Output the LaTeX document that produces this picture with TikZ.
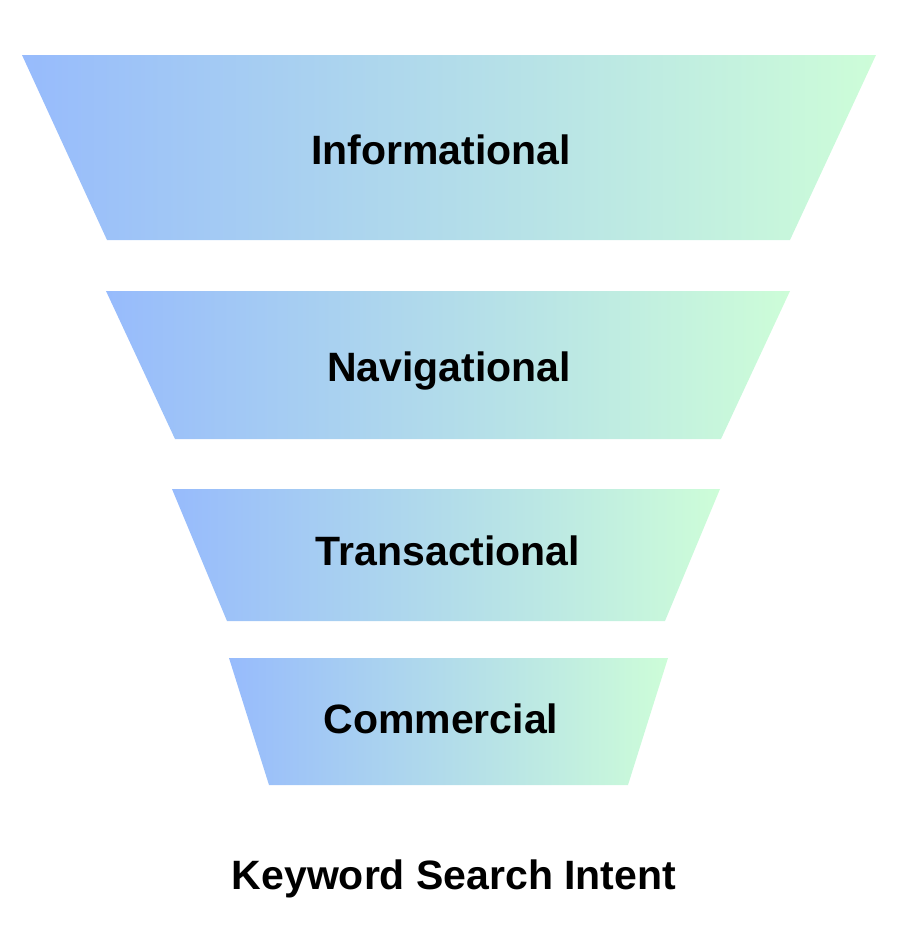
\documentclass[tikz,border=0pt]{standalone}
\usepackage{fontspec}
\setmainfont{Liberation Sans}
\definecolor{funnelblue}{RGB}{151,187,252}
\definecolor{funnelmid}{RGB}{174,214,238}
\definecolor{funnelgreen}{RGB}{205,253,216}
\tikzset{
  band/.style={left color=funnelblue, middle color=funnelmid, right color=funnelgreen, draw=none},
  label/.style={anchor=base, font=\fontsize{41}{48}\selectfont\bfseries, inner sep=0pt}
}

\begin{document}
\begin{tikzpicture}[x=1pt,y=-1pt]
		\useasboundingbox (0,0) rectangle (920,943);
		\shade[band](22,55)--(876,55)--(790,240)--(107,240)--cycle;
		\shade[band](106,291)--(790,291)--(721,439)--(175,439)--cycle;
		\shade[band](172,489)--(720,489)--(665,621)--(227,621)--cycle;
		\shade[band](229,658)--(668,658)--(628,785)--(269,785)--cycle;
		\node[label] (info) at (441,164) {Informational};
		\node[label] (navi) at (449,381) {Navigational};
		\node[label] (trans) at (448,565) {Transactional};
		\node[label] (comm) at (441,733) {Commercial};
		\node[label] (title) at (454,889) {Keyword Search Intent};
\end{tikzpicture}
\end{document}
